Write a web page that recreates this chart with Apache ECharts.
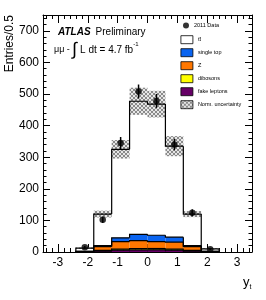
<!DOCTYPE html>
<html><head><meta charset="utf-8">
<script src="https://cdn.jsdelivr.net/npm/echarts@6/dist/echarts.min.js"></script>
<style>html,body{margin:0;padding:0;background:#fff}#c{width:266px;height:300px}</style>
</head><body><div id="c"></div>
<script>
// ---- data ----
const binEdges = [-2.4, -1.8, -1.2, -0.6, 0, 0.6, 1.2, 1.8, 2.4];
const fakeLeptons = [0.5, 3, 6, 7, 7, 6, 3, 0.5];
const dibosons    = [0.3, 2, 3, 4, 4, 3, 2, 0.3];
const zJets       = [1, 12, 24, 25, 22, 22, 12, 1];
const singleTop   = [0.5, 3, 12, 20, 20, 16, 3, 0.5];
const ttbar       = [9.7, 100, 280, 421, 415, 288, 100, 7.7];
const normUncRel  = [0.2, 0.09, 0.09, 0.09, 0.09, 0.095, 0.08, 0.2];
const dataX   = [-2.1, -1.5, -0.9, -0.3, 0.3, 0.9, 1.5, 2.1];
const dataY   = [15, 102, 345, 508, 478, 340, 124, 9];
const dataErr = [4, 10, 19, 22, 22, 18, 11, 3];
const xTickLabels = [-3, -2, -1, 0, 1, 2, 3];
const yTickLabels = [0, 100, 200, 300, 400, 500, 600, 700];

const FONT = "'Liberation Sans', Arial, sans-serif";
const colors = {fake:'#660066', dib:'#ffff00', z:'#ff7700', st:'#0a64f0', tt:'#ffffff'};

// minor tick positions
const xMinor = [], yMinor = [];
for (let i = -17; i <= 17; i++) { if (i % 5 !== 0) xMinor.push(i / 5); }
for (let v = 20; v < 750; v += 20) { if (v % 100 !== 0) yMinor.push(v); }

// hatch pattern
function hatch() {
  const c = document.createElement('canvas'); c.width = 4; c.height = 4;
  const g = c.getContext('2d');
  g.fillStyle = '#e6e6e6'; g.fillRect(0, 0, 4, 4);
  g.fillStyle = '#8a8a8a';
  [[0,0],[1,1],[2,2],[3,3],[3,0],[2,1],[1,2],[0,3]].forEach(p => g.fillRect(p[0], p[1], 1, 1));
  return {image: c, repeat: 'repeat'};
}
const hatchPattern = hatch();

// build stacked layers
const layers = [
  {name:'fake leptons', vals: fakeLeptons, color: colors.fake},
  {name:'dibosons', vals: dibosons, color: colors.dib},
  {name:'Z', vals: zJets, color: colors.z},
  {name:'single top', vals: singleTop, color: colors.st},
  {name:'t\u0074\u0304', vals: ttbar, color: colors.tt}
];
const nb = binEdges.length - 1;
let cum = new Array(nb).fill(0);
const layerSeries = [];
layers.forEach(L => {
  const rows = [];
  for (let i = 0; i < nb; i++) {
    const lo = cum[i], hi = cum[i] + L.vals[i];
    const prev = i === 0 ? 0 : cum[i - 1] + L.vals[i - 1];
    rows.push([binEdges[i], binEdges[i + 1], lo, hi, prev, i === nb - 1 ? 1 : 0]);
  }
  cum = cum.map((c, i) => c + L.vals[i]);
  layerSeries.push({
    type: 'custom', name: L.name, coordinateSystem: 'cartesian2d',
    itemStyle: {color: L.color, borderColor: '#000', borderWidth: 0.8},
    data: rows, silent: true, animation: false,
    renderItem: (params, api) => {
      const x0 = api.value(0), x1 = api.value(1), lo = api.value(2), hi = api.value(3), prev = api.value(4), last = api.value(5);
      const a = api.coord([x0, lo]), b = api.coord([x1, hi]);
      const pts = [api.coord([x0, prev]), api.coord([x0, hi]), api.coord([x1, hi])];
      if (last) pts.push(api.coord([x1, 0]));
      return {type: 'group', children: [
        {type: 'rect', shape: {x: a[0], y: b[1], width: b[0] - a[0], height: a[1] - b[1]}, style: {fill: L.color}, z2: 0},
        {type: 'polyline', shape: {points: pts}, style: {stroke: '#000', lineWidth: 1.2, fill: null}, z2: 10}
      ]};
    }
  });
});
const totals = cum.slice();
const bandRows = totals.map((t, i) => [binEdges[i], binEdges[i + 1], t * (1 - normUncRel[i]), t * (1 + normUncRel[i])]);

const series = [
  {type: 'scatter', name: '2011 Data', data: dataX.map((x, i) => [x, dataY[i]]), symbol: 'circle', symbolSize: 6.5,
   itemStyle: {color: '#000'}, z: 5, animation: false},
  {type: 'custom', name: 'errbars', coordinateSystem: 'cartesian2d', data: dataX.map((x, i) => [x, dataY[i], dataErr[i]]),
   z: 5, animation: false,
   renderItem: (params, api) => {
     const x = api.value(0), y = api.value(1), e = api.value(2);
     const p0 = api.coord([x, y - e]), p1 = api.coord([x, y + e]);
     return {type: 'line', shape: {x1: p0[0], y1: p0[1], x2: p1[0], y2: p1[1]}, style: {stroke: '#000', lineWidth: 1.5}};
   }}
].concat(layerSeries.slice().reverse()).concat([
  {type: 'custom', name: 'Norm. uncertainty', coordinateSystem: 'cartesian2d', data: bandRows,
   itemStyle: {color: hatchPattern, borderColor: '#000', borderWidth: 0.8}, animation: false,
   renderItem: (params, api) => {
     const a = api.coord([api.value(0), api.value(2)]), b = api.coord([api.value(1), api.value(3)]);
     return {type: 'rect', shape: {x: a[0], y: b[1], width: b[0] - a[0], height: a[1] - b[1]}, style: {fill: hatchPattern}, z2: 5};
   }}
]);

const xBase = {type: 'value', min: -3.5, max: 3.5, splitLine: {show: false}};
const yBase = {type: 'value', min: 0, max: 750, splitLine: {show: false}};
const lineBlack = {color: '#000', width: 1};
const txt = (o) => Object.assign({fontFamily: FONT, color: '#000', fontWeight: 'normal', fontStyle: 'normal'}, o);
const option = {
  animation: false,
  grid: {left: 43, right: 14, top: 15, bottom: 48, containLabel: false},
  title: [
    {left: 58, top: 23, padding: 0, text: '{a|ATLAS} {b|Preliminary}',
     textStyle: {fontWeight: 'normal', rich: {a: txt({fontStyle: 'italic', fontWeight: 'bold', fontSize: 10}),
                        b: txt({fontSize: 10})}}},
    {left: 54, top: 41, padding: 0, text: '{m|\u03bc\u03bc - }{i|\u222b}{t| L dt = 4.7 fb}{s|-1}',
     textStyle: {fontWeight: 'normal', rich: {m: txt({fontSize: 9}),
                        i: txt({fontSize: 18}),
                        t: txt({fontSize: 10}),
                        s: txt({fontSize: 6, verticalAlign: 'top'})}}},
    {left: 243, top: 276, padding: 0, text: '{y|y}{s|t}',
     textStyle: {fontWeight: 'normal', rich: {y: txt({fontSize: 13}),
                        s: txt({fontSize: 7, verticalAlign: 'bottom', padding: [0, 0, -2, 0]})}}}
  ],
  graphic: [
    {type: 'text', x: 10, y: 15, rotation: Math.PI / 2,
     style: {text: 'Entries/0.5', fontSize: 12, fontFamily: FONT, fill: '#000', textAlign: 'right', textVerticalAlign: 'middle', align: 'right', verticalAlign: 'middle'}}
  ],
  legend: [
    {data: ['2011 Data'], left: 183, top: 22.5, padding: 0, orient: 'vertical', itemWidth: 6, itemHeight: 6,
     textStyle: {fontSize: 5.5, fontFamily: FONT, color: '#000'}, selectedMode: false},
    {data: ['t\u0074\u0304', 'single top', 'Z', 'dibosons', 'fake leptons', 'Norm. uncertainty'],
     left: 180.5, top: 35.3, padding: 0, orient: 'vertical', itemWidth: 12, itemHeight: 8, itemGap: 4.2, icon: 'rect',
     itemStyle: {borderColor: '#000', borderWidth: 0.8},
     textStyle: {fontSize: 5.5, fontFamily: FONT, color: '#000'}, selectedMode: false}
  ],
  xAxis: [
    Object.assign({}, xBase, {position: 'bottom', axisLine: {show: true, onZero: false, lineStyle: lineBlack},
      axisTick: {show: true, inside: true, length: 8, customValues: xTickLabels, lineStyle: lineBlack},
      axisLabel: {show: true, customValues: xTickLabels, fontSize: 12, fontFamily: FONT, color: '#000', margin: 5}}),
    Object.assign({}, xBase, {position: 'bottom', axisLine: {show: false, onZero: false},
      axisTick: {show: true, inside: true, length: 4, customValues: xMinor, lineStyle: lineBlack}, axisLabel: {show: false}}),
    Object.assign({}, xBase, {position: 'top', axisLine: {show: true, onZero: false, lineStyle: lineBlack},
      axisTick: {show: true, inside: true, length: 8, customValues: xTickLabels, lineStyle: lineBlack}, axisLabel: {show: false}}),
    Object.assign({}, xBase, {position: 'top', axisLine: {show: false, onZero: false},
      axisTick: {show: true, inside: true, length: 4, customValues: xMinor, lineStyle: lineBlack}, axisLabel: {show: false}})
  ],
  yAxis: [
    Object.assign({}, yBase, {position: 'left', axisLine: {show: true, onZero: false, lineStyle: lineBlack},
      axisTick: {show: true, inside: true, length: 7, customValues: yTickLabels, lineStyle: lineBlack},
      axisLabel: {show: true, customValues: yTickLabels, fontSize: 12, fontFamily: FONT, color: '#000', margin: 4}}),
    Object.assign({}, yBase, {position: 'left', axisLine: {show: false, onZero: false},
      axisTick: {show: true, inside: true, length: 3.5, customValues: yMinor, lineStyle: lineBlack}, axisLabel: {show: false}}),
    Object.assign({}, yBase, {position: 'right', axisLine: {show: true, onZero: false, lineStyle: lineBlack},
      axisTick: {show: true, inside: true, length: 7, customValues: yTickLabels, lineStyle: lineBlack}, axisLabel: {show: false}}),
    Object.assign({}, yBase, {position: 'right', axisLine: {show: false, onZero: false},
      axisTick: {show: true, inside: true, length: 3.5, customValues: yMinor, lineStyle: lineBlack}, axisLabel: {show: false}})
  ],
  series: series
};
const chart = echarts.init(document.getElementById('c'), null, {renderer: 'canvas'});
chart.setOption(option);
</script></body></html>
